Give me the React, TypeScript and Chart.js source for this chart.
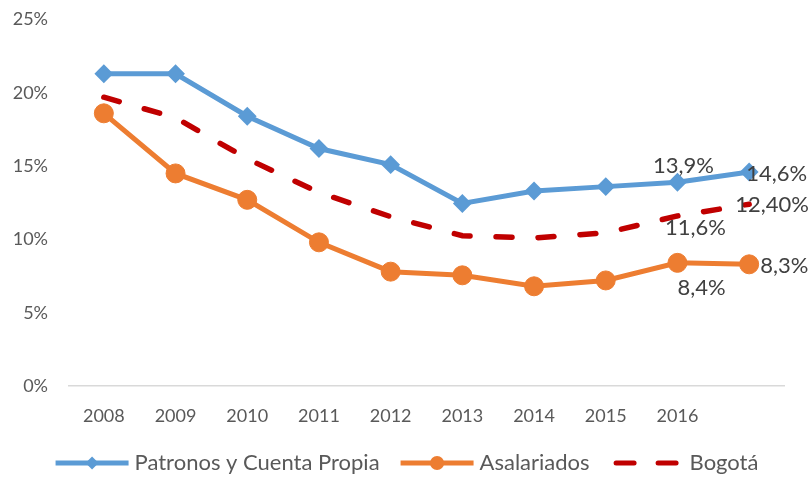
import React, { useEffect, useRef } from 'react';
import { Chart, registerables } from 'chart.js';

Chart.register(...registerables);

// ---- data ----
const years = ['2008', '2009', '2010', '2011', '2012', '2013', '2014', '2015', '2016', ''];
const patronos = [21.3, 21.3, 18.4, 16.2, 15.1, 12.45, 13.3, 13.6, 13.9, 14.6];
const asalariados = [18.6, 14.5, 12.7, 9.8, 7.8, 7.55, 6.8, 7.2, 8.4, 8.3];
const bogota = [19.7, 18.3, 15.5, 13.2, 11.55, 10.25, 10.1, 10.45, 11.6, 12.4];
const patronosLabels = ['', '', '', '', '', '', '', '', '13,9%', '14,6%'];
const asalariadosLabels = ['', '', '', '', '', '', '', '', '8,4%', '8,3%'];
const bogotaLabels = ['', '', '', '', '', '', '', '', '11,6%', '12,40%'];
const seriesNames = ['Patronos y Cuenta Propia', 'Asalariados', 'Bogotá'];
const yMin = 0;
const yMax = 25;
const yStep = 5;

// ---- styles ----
const FONT = 'Lato, "Open Sans", "DejaVu Sans", sans-serif';
const COLORS = ['#5B9BD5', '#ED7D31', '#C00000'];
const TICK_COLOR = '#595959';
const LABEL_COLOR = '#404040';

// per dataset, per point: label placement relative to the point
const PLACEMENT: Record<number, Record<number, { dx: number; dy: number; align: CanvasTextAlign }>> = {
  0: { 8: { dx: 6, dy: -16, align: 'center' }, 9: { dx: -3, dy: 2, align: 'left' } },
  1: { 8: { dx: 24, dy: 25, align: 'center' }, 9: { dx: 11, dy: 2, align: 'left' } },
  2: { 8: { dx: 18, dy: 12, align: 'center' }, 9: { dx: -14, dy: 1, align: 'left' } },
};

const dataLabelPlugin = {
  id: 'dataLabels',
  afterDatasetsDraw(chart: any) {
    const ctx = chart.ctx;
    ctx.save();
    ctx.font = `22px ${FONT}`;
    ctx.fillStyle = LABEL_COLOR;
    ctx.textBaseline = 'middle';
    chart.data.datasets.forEach((ds: any, i: number) => {
      const meta = chart.getDatasetMeta(i);
      (ds.pointLabels || []).forEach((txt: string, j: number) => {
        if (!txt) return;
        const pt = meta.data[j];
        const p = (PLACEMENT[i] && PLACEMENT[i][j]) || { dx: 0, dy: -16, align: 'center' };
        ctx.textAlign = p.align;
        ctx.fillText(txt, pt.x + p.dx, pt.y + p.dy);
      });
    });
    ctx.restore();
  },
};

const legendPlugin = {
  id: 'customLegend',
  afterDraw(chart: any) {
    const ctx = chart.ctx;
    const sample = 73;
    const gap = 6;
    const spacing = 21;
    const cy = 463;
    ctx.save();
    ctx.font = `22px ${FONT}`;
    const items = chart.data.datasets.map((ds: any) => ({
      ds,
      w: sample + gap + ctx.measureText(ds.label).width,
    }));
    const total = items.reduce((a: number, it: any) => a + it.w, 0) + spacing * (items.length - 1);
    let x = (chart.width - total) / 2 + 2;
    items.forEach((it: any) => {
      const ds = it.ds;
      ctx.strokeStyle = ds.borderColor;
      ctx.fillStyle = ds.borderColor;
      ctx.lineWidth = 5;
      if (ds.borderDash && ds.borderDash.length) {
        ctx.lineCap = 'round';
        ctx.setLineDash([18, 24]);
        ctx.beginPath();
        ctx.moveTo(x + 5.5, cy);
        ctx.lineTo(x + sample - 2, cy);
        ctx.stroke();
        ctx.setLineDash([]);
      } else {
        ctx.lineCap = 'butt';
        ctx.beginPath();
        ctx.moveTo(x, cy);
        ctx.lineTo(x + sample, cy);
        ctx.stroke();
        const mx = x + sample / 2;
        ctx.beginPath();
        if (ds.pointStyle === 'rectRot') {
          const r = 6.5;
          ctx.moveTo(mx, cy - r);
          ctx.lineTo(mx + r, cy);
          ctx.lineTo(mx, cy + r);
          ctx.lineTo(mx - r, cy);
          ctx.closePath();
        } else {
          ctx.arc(mx, cy, 7, 0, Math.PI * 2);
        }
        ctx.fill();
      }
      ctx.fillStyle = TICK_COLOR;
      ctx.textAlign = 'left';
      ctx.textBaseline = 'middle';
      ctx.fillText(ds.label, x + sample + gap, cy);
      x += it.w + spacing;
    });
    ctx.restore();
  },
};

export default function App() {
  const ref = useRef<HTMLCanvasElement | null>(null);

  useEffect(() => {
    if (!ref.current) return;
    const chart = new Chart(ref.current, {
      type: 'line',
      data: {
        labels: years,
        datasets: [
          {
            label: seriesNames[0],
            data: patronos,
            pointLabels: patronosLabels,
            borderColor: COLORS[0],
            backgroundColor: COLORS[0],
            borderWidth: 5,
            pointStyle: 'rectRot',
            pointRadius: 8,
            pointBorderWidth: 2,
            pointBackgroundColor: COLORS[0],
            pointBorderColor: COLORS[0],
            tension: 0,
          } as any,
          {
            label: seriesNames[1],
            data: asalariados,
            pointLabels: asalariadosLabels,
            borderColor: COLORS[1],
            backgroundColor: COLORS[1],
            borderWidth: 5,
            pointStyle: 'circle',
            pointRadius: 9.5,
            pointBorderWidth: 1,
            pointBackgroundColor: COLORS[1],
            pointBorderColor: COLORS[1],
            tension: 0,
          } as any,
          {
            label: seriesNames[2],
            data: bogota,
            pointLabels: bogotaLabels,
            borderColor: COLORS[2],
            backgroundColor: COLORS[2],
            borderWidth: 5.5,
            borderDash: [16, 26],
            borderCapStyle: 'round',
            pointRadius: 0,
            tension: 0,
          } as any,
        ],
      },
      options: {
        responsive: false,
        animation: false,
        devicePixelRatio: 1,
        layout: { padding: { top: 19.5, right: 25, left: 0, bottom: 0 } },
        plugins: {
          legend: { display: false },
          tooltip: { enabled: false },
        },
        scales: {
          x: {
            type: 'category',
            offset: true,
            grid: { display: false },
            border: { display: false },
            ticks: {
              color: TICK_COLOR,
              font: { family: FONT, size: 18 },
              padding: 11,
              maxRotation: 0,
              autoSkip: false,
            },
            afterFit: (s: any) => {
              s.height = 91;
              s.paddingLeft = 0;
              s.paddingRight = 0;
            },
          },
          y: {
            min: yMin,
            max: yMax,
            ticks: {
              stepSize: yStep,
              callback: (v: any) => `${v}%`,
              color: TICK_COLOR,
              font: { family: FONT, size: 18 },
              padding: 20,
            },
            grid: {
              drawTicks: false,
              color: (c: any) => (c.tick && c.tick.value === 0 ? '#D9D9D9' : 'rgba(0,0,0,0)'),
              lineWidth: 1.5,
            },
            border: { display: false },
            afterFit: (s: any) => {
              s.width = 68;
              s.paddingTop = 0;
              s.paddingBottom = 0;
            },
          },
        },
      } as any,
      plugins: [dataLabelPlugin, legendPlugin],
    });
    return () => chart.destroy();
  }, []);

  return (
    <div style={{ position: 'fixed', left: 0, top: 0, width: 810, height: 477, background: '#fff' }}>
      <canvas ref={ref} width={810} height={477} style={{ width: 810, height: 477, display: 'block' }} />
    </div>
  );
}
